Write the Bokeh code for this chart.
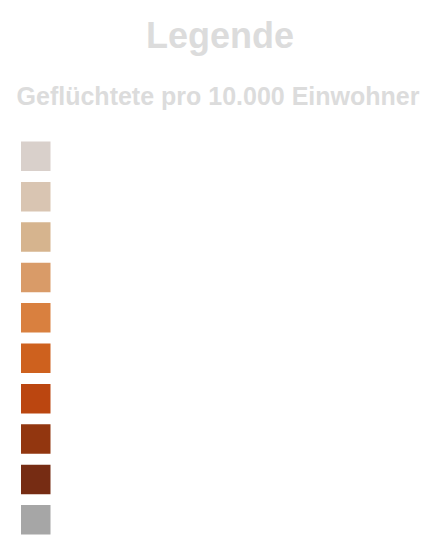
from bokeh.plotting import figure
from bokeh.models import Range1d, Label, ColumnDataSource
from bokeh.embed import file_html
from bokeh.resources import INLINE

title = "Legende"
subtitle = "Geflüchtete pro 10.000 Einwohner"
classes = ["Klasse 1", "Klasse 2", "Klasse 3", "Klasse 4", "Klasse 5",
           "Klasse 6", "Klasse 7", "Klasse 8", "Klasse 9", "keine Daten"]
colors = ["#d9d0cb", "#d9c5b2", "#d6b48e", "#d99b68", "#d9803f",
          "#ce611e", "#bb4610", "#92360f", "#762c13", "#a6a6a6"]

W, H = 439, 547
p = figure(width=W, height=H, output_backend="svg", toolbar_location=None,
           x_range=Range1d(0, W), y_range=Range1d(H, 0), min_border=0)
p.axis.visible = False
p.grid.visible = False
p.outline_line_color = None
p.background_fill_color = "white"
p.border_fill_color = "white"

step = 40.4
top0 = 141
src = ColumnDataSource(dict(
    cls=classes,
    color=colors,
    top=[top0 + i * step for i in range(len(classes))],
    bottom=[top0 + i * step + 29.5 for i in range(len(classes))],
))
p.quad(left=20.5, right=50, top="top", bottom="bottom", fill_color="color",
       line_color=None, source=src)

p.add_layout(Label(x=W / 2, y=35, text=title, text_align="center",
                   text_baseline="alphabetic", text_font="Liberation Sans",
                   text_font_style="bold", text_font_size="36px",
                   text_color="#dcdcdc"))
p.add_layout(Label(x=W / 2 - 2, y=95, text=subtitle, text_align="center",
                   text_baseline="alphabetic", text_font="Liberation Sans",
                   text_font_style="bold", text_font_size="25px",
                   text_color="#dcdcdc"))

open("out.html", "w").write(file_html(p, INLINE))
